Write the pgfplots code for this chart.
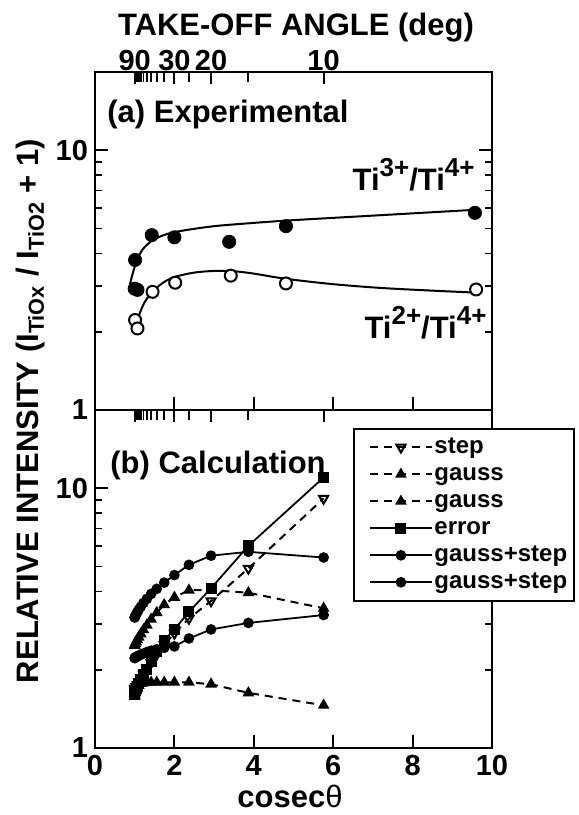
\documentclass[border=0pt]{standalone}
\usepackage{fontspec}
\setmainfont{Liberation Sans}
\usepackage{pgfplots}
\usepackage{pgfplotstable}
\pgfplotsset{compat=1.18}

\newcommand\lab{\fontsize{15.5}{18}\selectfont\bfseries}
\newcommand\tik{\fontsize{14.5}{16}\selectfont\bfseries}
\newcommand\leg{\fontsize{12}{13}\selectfont\bfseries}
\newcommand\sups[1]{\raisebox{0.45em}{\fontsize{13}{13}\selectfont\bfseries #1}}

% (b) calculation, cosec of 90,85,...,10 deg
\pgfplotstableread{
x      step  gA    gB    err   gsA   gsB
1.0000 1.68  2.48  1.58  1.64  3.18  2.22
1.0038 1.69  2.49  1.60  1.65  3.19  2.22
1.0154 1.70  2.52  1.63  1.67  3.22  2.23
1.0353 1.72  2.56  1.67  1.69  3.27  2.24
1.0642 1.75  2.61  1.71  1.73  3.33  2.25
1.1034 1.79  2.67  1.74  1.77  3.41  2.27
1.1547 1.85  2.75  1.77  1.84  3.50  2.29
1.2208 1.92  2.85  1.78  1.91  3.62  2.31
1.3054 2.01  2.97  1.79  2.01  3.75  2.34
1.4142 2.13  3.13  1.79  2.15  3.92  2.37
1.5557 2.29  3.32  1.79  2.35  4.10  2.40
1.7434 2.50  3.56  1.79  2.60  4.33  2.43
2.0000 2.76  3.80  1.79  2.86  4.63  2.46
2.3662 3.15  4.05  1.79  3.34  5.07  2.64
2.9238 3.68  4.05  1.76  4.12  5.50  2.86
3.8637 4.91  3.96  1.63  6.00  5.69  3.03
5.7588 9.13  3.45  1.46  11.0  5.41  3.25
}\calc

\pgfplotsset{
  panelstyle/.style={
    scale only axis, width=198.5pt, height=169pt,
    xmin=0, xmax=10, ymin=1, ymax=20,
    axis line style={line width=1.1pt},
    every tick/.style={line width=0.9pt, black},
    tick align=inside,
    major tick length=6.5pt, minor tick length=3.5pt,
    xtick={0,2,4,6,8,10}, xtick pos=bottom,
    ytick={1,10}, yticklabels={{1\hspace{4pt}},10},
    minor ytick={2,3,4,5,6,7,8,9},
    ytick pos=both,
    tick label style={font=\tik},
    /pgf/number format/assume math mode=true,
  },
  anglestyle/.style={
    scale only axis, width=198.5pt, height=169pt,
    xmin=0, xmax=10, ymin=0, ymax=1,
    axis x line*=top, hide y axis,
    axis line style={line width=1.1pt},
    every tick/.style={line width=0.9pt, black},
    tick align=inside,
    major tick length=6pt, minor tick length=5pt,
    xtick={1,2,2.9238,5.7588},
    minor xtick={1.0038,1.0154,1.0353,1.0642,1.1034,1.1547,1.2208,1.3054,1.4142,1.5557,1.7434,2.3662,3.8637},
    tick label style={font=\tik},
    xticklabel shift=-3pt,
  },
}

\begin{document}
\begin{tikzpicture}
% ---- (a) experimental
\begin{axis}[ymode=log, panelstyle, at={(0,169pt)}, xticklabels={}]
\addplot[smooth, line width=1pt] coordinates {
  (0.88,3.05) (0.95,3.35) (1.05,3.75) (1.2,4.15) (1.45,4.5) (1.8,4.75)
  (2.2,4.9) (3.0,5.1) (4.0,5.25) (5.0,5.38) (7.0,5.6) (9.6,5.9)};
\addplot[smooth, line width=1pt] coordinates {
  (0.97,2.03) (1.1,2.3) (1.25,2.6) (1.45,2.85) (1.7,3.08) (2.0,3.25)
  (2.5,3.38) (3.0,3.43) (3.5,3.42) (4.0,3.35) (4.8,3.2) (6.0,3.05)
  (7.2,2.95) (8.5,2.88) (9.6,2.83)};
\addplot[only marks, mark=*, mark size=3.3pt] coordinates {
  (1.01,3.78) (1.0,2.93) (1.07,2.9) (1.43,4.71) (2.0,4.62) (3.38,4.44)
  (4.81,5.1) (9.57,5.74)};
\addplot[only marks, mark=*, mark size=3pt,
  mark options={fill=white, line width=1pt}] coordinates {
  (1.01,2.22) (1.07,2.06) (1.45,2.85) (2.02,3.09) (3.42,3.29) (4.81,3.07)
  (9.6,2.91)};
\node[anchor=north west, inner sep=0pt, font=\lab, xshift=6pt, yshift=-14pt]
  at (rel axis cs:0,1) {(a) Experimental};
\node[anchor=base east, inner sep=0pt, font=\lab] at (axis cs:9.57,7.02)
  {Ti\sups{3+}/Ti\sups{4+}};
\node[anchor=base east, inner sep=0pt, font=\lab] at (axis cs:9.87,1.89)
  {Ti\sups{2+}/Ti\sups{4+}};
\end{axis}
\begin{axis}[anglestyle, at={(0,169pt)}, xticklabels={90,30,20,10}]
\end{axis}

% ---- (b) calculation
\begin{axis}[ymode=log, panelstyle, at={(0,0)},
  legend style={at={(axis description cs:0.65,0.947)}, anchor=north west,
    draw=black, line width=0.9pt, fill=white, font=\leg,
    inner xsep=2.5pt, inner ysep=2.5pt, row sep=0pt,
    nodes={inner sep=0.75pt, font=\leg, text height=9pt, text depth=3pt}},
  legend cell align=left,
  legend image code/.code={\path (0pt,0pt);
    \draw[mark repeat=2,mark phase=2,#1]
    plot coordinates {(5pt,0pt) (20.5pt,0pt) (36pt,0pt)};},
]
\addplot[line width=1pt, dash pattern=on 4pt off 3pt, mark=triangle,
  mark size=2.6pt, mark options={solid, rotate=180, line width=1pt}]
  table[x=x, y=step] {\calc};
\addlegendentry{step}
\addplot[line width=1pt, dash pattern=on 4pt off 3pt, mark=triangle*,
  mark size=2.4pt, mark options={solid}]
  table[x=x, y=gA] {\calc};
\addlegendentry{gauss}
\addplot[line width=1pt, dash pattern=on 4pt off 3pt, mark=triangle*,
  mark size=2.4pt, mark options={solid}]
  table[x=x, y=gB] {\calc};
\addlegendentry{gauss}
\addplot[line width=0.9pt, mark=square*, mark size=2.3pt]
  table[x=x, y=err] {\calc};
\addlegendentry{error}
\addplot[line width=0.9pt, mark=*, mark size=2.2pt]
  table[x=x, y=gsA] {\calc};
\addlegendentry{gauss+step}
\addplot[line width=0.9pt, mark=*, mark size=2.2pt]
  table[x=x, y=gsB] {\calc};
\addlegendentry{gauss+step}
\node[anchor=north west, inner sep=0pt, font=\lab, xshift=7.5pt, yshift=-20.5pt]
  at (rel axis cs:0,1) {(b) Calculation};
\end{axis}
\begin{axis}[anglestyle, at={(0,0)}, xticklabels={}]
\end{axis}

\node[font=\lab] at (100.5pt,360pt) {TAKE-OFF ANGLE (deg)};
\node[font=\lab, rotate=90] at (-32.5pt,168.5pt)
  {RELATIVE INTENSITY (I\textsubscript{TiOx} / I\textsubscript{TiO2} + 1)};
\node[font=\lab, anchor=base] at (97.5pt,-29.5pt) {cosec{\mdseries θ}};
\pgfresetboundingbox
\useasboundingbox (-47.5pt,-33.5pt) rectangle (242pt,374pt);
\end{tikzpicture}
\end{document}
